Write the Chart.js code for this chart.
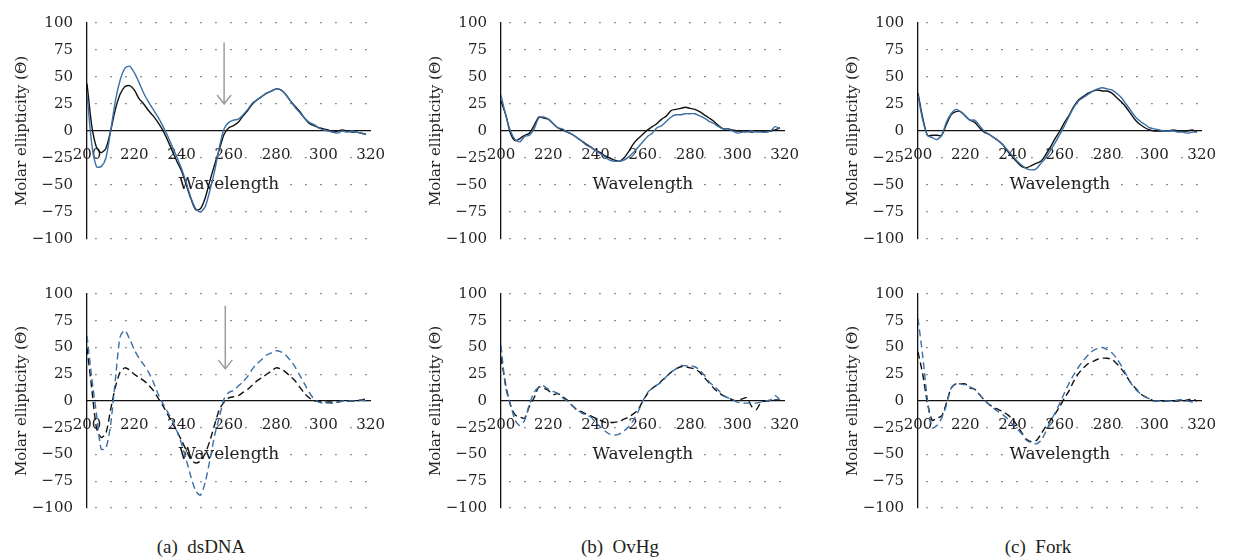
<!DOCTYPE html>
<html>
<head>
<meta charset="utf-8">
<script src="https://cdn.jsdelivr.net/npm/chart.js@4.4.1/dist/chart.umd.min.js"></script>
<style>
  body { margin: 0; background: #fff; }
  #wrap { position: relative; width: 1235px; height: 559px; overflow: hidden; }
  #wrap canvas { position: absolute; }
  .cap { position: absolute; top: 536px; width: 240px; margin-left: -120px; text-align: center;
         font: 19px "Liberation Serif", serif; color: #231f20; white-space: pre; }
</style>
</head>
<body>
<div id="wrap">
  <canvas id="pa1" width="400" height="262" style="left:0px;top:0px"></canvas>
  <canvas id="pb1" width="400" height="262" style="left:414px;top:0px"></canvas>
  <canvas id="pc1" width="400" height="262" style="left:831px;top:0px"></canvas>
  <canvas id="pa2" width="400" height="260" style="left:0px;top:271px"></canvas>
  <canvas id="pb2" width="400" height="260" style="left:414px;top:271px"></canvas>
  <canvas id="pc2" width="400" height="260" style="left:831px;top:271px"></canvas>
  <div class="cap" style="left:201px">(a)  dsDNA</div>
  <div class="cap" style="left:620px">(b)  OvHg</div>
  <div class="cap" style="left:1038px">(c)  Fork</div>
</div>
<script>
// ======================================================
// Data (every 2 nm)
// ======================================================

const wavelengths = [
  200, 202, 204, 206, 208, 210, 212, 214, 216, 218,
  220, 222, 224, 226, 228, 230, 232, 234, 236, 238,
  240, 242, 244, 246, 248, 250, 252, 254, 256, 258,
  260, 262, 264, 266, 268, 270, 272, 274, 276, 278,
  280, 282, 284, 286, 288, 290, 292, 294, 296, 298,
  300, 302, 304, 306, 308, 310, 312, 314, 316, 318
];

const xTicks = [200, 220, 240, 260, 280, 300, 320];
const yTicks = [-100, -75, -50, -25, 0, 25, 50, 75, 100];

// (a) dsDNA, solid
const dsdnaBlack = [
  44, 5, -15, -20, -16, 0, 20, 34, 41, 42,
  38, 30, 25, 19, 14, 8, 1, -8, -18, -28,
  -37, -50, -63, -73, -72, -62, -46, -31, -17, -3,
  3, 5, 8, 14, 19, 25, 29, 32, 35, 37,
  39, 38, 34, 28, 23, 18, 12, 7, 5, 3,
  2, 1, -1, 0, 1, 0, -1, -1, -2, -3
];
const dsdnaBlue = [
  35, -12, -33, -33, -25, 0, 28, 47, 58, 60,
  54, 45, 35, 27, 20, 13, 5, -4, -14, -24,
  -35, -48, -62, -72, -75, -70, -55, -37, -15, 2,
  8, 10, 11, 15, 20, 26, 29, 32, 35, 37,
  39, 38, 34, 28, 22, 17, 12, 8, 6, 3,
  1, 0, -1, -2, 0, -1, 0, -1, -2, -3
];

// (b) OvHg, solid
const ovhgBlack = [
  28, 15, -2, -9, -7, -4, -2, 5, 13, 12,
  11, 7, 3, 1, -1, -3, -6, -9, -12, -15,
  -18, -20, -23, -25, -27, -28, -25, -19, -12, -7,
  -3, 1, 4, 7, 11, 14, 19, 20, 21, 22,
  21, 20, 18, 15, 12, 9, 5, 2, 2, 1,
  0, 0, 0, -1, 0, 0, -1, 0, 1, 3
];
const ovhgBlue = [
  33, 15, 0, -8, -10, -5, -4, 2, 12, 13,
  11, 7, 3, 2, -1, -3, -6, -9, -13, -15,
  -18, -21, -24, -27, -28, -28, -27, -24, -20, -15,
  -10, -5, -2, 3, 5, 9, 13, 15, 15, 16,
  16, 16, 14, 12, 9, 7, 4, 2, 2, 0,
  -2, -1, -1, 0, -1, -1, -1, 0, 4, 2
];

// (c) Fork, solid
const forkBlack = [
  35, 12, -4, -4, -4, -4, 6, 15, 18, 18,
  14, 10, 8, 3, -1, -3, -6, -9, -13, -19,
  -24, -29, -33, -34, -32, -30, -28, -22, -15, -7,
  0, 8, 15, 23, 29, 32, 35, 37, 38, 37,
  37, 35, 31, 27, 22, 16, 10, 6, 3, 1,
  0, 0, 0, 0, 1, 0, 0, 0, 1, -1
];
const forkBlue = [
  33, 10, -4, -6, -8, -4, 8, 16, 20, 18,
  14, 10, 10, 5, 0, -3, -6, -9, -13, -18,
  -23, -28, -32, -35, -36, -35, -30, -25, -18, -11,
  -3, 5, 14, 22, 28, 31, 34, 37, 39, 40,
  39, 38, 35, 31, 25, 19, 13, 9, 6, 3,
  2, 1, 0, 0, 0, -1, -1, -2, -1, -1
];

// (a) dsDNA, dashed
const dsdnaDashBlack = [
  50, 12, -25, -34, -30, -8, 13, 27, 31, 29,
  25, 22, 19, 15, 10, 3, -4, -12, -20, -28,
  -37, -46, -55, -58, -56, -49, -37, -22, -8, -1,
  3, 4, 5, 8, 11, 15, 19, 22, 25, 28,
  31, 30, 27, 23, 19, 13, 7, 3, 0, 0,
  -1, -1, -1, -1, 0, 0, 0, 0, 1, 2
];
const dsdnaDashBlue = [
  61, 22, -12, -45, -44, -22, 20, 60, 66, 58,
  48, 40, 34, 27, 18, 7, -2, -10, -18, -28,
  -40, -55, -71, -84, -88, -76, -55, -32, -15, 2,
  8, 10, 14, 18, 23, 30, 35, 39, 43, 45,
  47, 46, 43, 38, 32, 24, 16, 8, 2, -1,
  -2, -2, -2, -1, 0, 0, 0, 0, 1, 0
];

// (b) OvHg, dashed
const ovhgDashBlack = [
  41, 15, -4, -13, -15, -16, -5, 3, 13, 12,
  10, 6, 7, 4, 1, -4, -8, -10, -12, -14,
  -16, -18, -20, -20, -20, -19, -17, -15, -12, -8,
  0, 7, 12, 15, 19, 23, 27, 30, 32, 32,
  31, 30, 27, 22, 17, 12, 8, 5, 3, 1,
  0, 2, 3, -5, -8, -1, 0, 0, 1, 1
];
const ovhgDashBlue = [
  52, 12, -3, -18, -23, -18, -3, 8, 13, 14,
  11, 9, 7, 3, 0, -4, -8, -11, -13, -15,
  -20, -24, -28, -31, -32, -31, -28, -24, -18, -10,
  0, 8, 12, 15, 18, 23, 27, 30, 33, 33,
  33, 32, 29, 24, 18, 14, 10, 5, 3, 1,
  -1, -2, -2, -2, -2, -1, 0, 1, 5, 1
];

// (c) Fork, dashed
const forkDashBlack = [
  46, 25, -2, -18, -16, -14, -2, 12, 16, 16,
  16, 12, 11, 6, 1, -3, -6, -8, -10, -13,
  -17, -23, -30, -36, -38, -37, -31, -24, -18, -12,
  -5, 3, 10, 19, 26, 31, 35, 37, 39, 40,
  40, 39, 35, 30, 24, 17, 12, 7, 4, 2,
  0, 0, 0, 0, 0, 0, 0, 1, 2, 0
];
const forkDashBlue = [
  77, 42, 1, -25, -23, -16, -4, 12, 16, 16,
  15, 13, 11, 6, 1, -3, -7, -10, -13, -17,
  -22, -26, -31, -37, -39, -40, -37, -29, -19, -11,
  -2, 8, 17, 25, 32, 38, 43, 47, 49, 50,
  48, 45, 40, 33, 25, 17, 11, 7, 4, 2,
  0, 0, 0, 0, 0, 1, 1, 0, -1, -2
];

// arrows: [wavelength, from value, to value]
const arrowTop = [258, 82, 25];
const arrowBottom = [258.5, 89, 30];

// ======================================================
// Styling
// ======================================================

const BLUE = "#3b6fa6";
const BLACK = "#111111";
const TEXT = "#231f20";
const FONT = "DejaVu Serif";

function toPoints(values) {
    return wavelengths.map((w, i) => ({ x: w, y: values[i] }));
}

const extrasPlugin = {
    id: "extras",
    beforeDatasetsDraw(chart) {
        const { ctx, scales: { x, y } } = chart;
        ctx.save();
        ctx.font = "17px '" + FONT + "'";
        ctx.fillStyle = TEXT;
        ctx.textAlign = "center";
        ctx.textBaseline = "middle";
        ctx.fillText("Wavelength", (x.left + x.right) / 2, y.getPixelForValue(-50));
        ctx.restore();
    },
    afterDatasetsDraw(chart, args, opts) {
        if (!opts.arrow) return;
        const { ctx, scales: { x, y } } = chart;
        const px = x.getPixelForValue(opts.arrow[0]);
        const y1 = y.getPixelForValue(opts.arrow[1]);
        const y2 = y.getPixelForValue(opts.arrow[2]);
        ctx.save();
        ctx.strokeStyle = "#9d9d9d";
        ctx.lineWidth = 1.5;
        ctx.beginPath();
        ctx.moveTo(px, y1);
        ctx.lineTo(px, y2);
        ctx.moveTo(px - 7, y2 - 9);
        ctx.lineTo(px, y2);
        ctx.lineTo(px + 7, y2 - 9);
        ctx.stroke();
        ctx.restore();
    }
};

// ======================================================
// Panel
// ======================================================

function renderPanel(id, blackValues, blueValues, dashed, arrow) {

    const canvas = document.querySelector("#" + id);

    if (!canvas) return;

    const dash = dashed ? [7, 4] : [];

    new Chart(canvas, {

        type: "line",

        data: {

            datasets: [

                {
                    data: toPoints(blueValues),
                    borderColor: BLUE,
                    borderWidth: 1.4,
                    borderDash: dash,
                    pointRadius: 0,
                    tension: 0.25
                },

                {
                    data: toPoints(blackValues),
                    borderColor: BLACK,
                    borderWidth: 1.4,
                    borderDash: dash,
                    pointRadius: 0,
                    tension: 0.25
                }

            ]

        },

        options: {

            responsive: false,
            animation: false,
            devicePixelRatio: 1,

            layout: {
                padding: { top: 22, bottom: 22, left: 0, right: 13 }
            },

            plugins: {
                legend: { display: false },
                tooltip: { enabled: false },
                extras: { arrow: arrow }
            },

            scales: {

                x: {
                    type: "linear",
                    position: { y: 0 },
                    min: 200,
                    max: 320,
                    afterBuildTicks: (scale) => {
                        scale.ticks = xTicks.map(v => ({ value: v }));
                    },
                    grid: { color: "transparent", drawTicks: false },
                    border: { display: true, color: BLACK, width: 1.3 },
                    ticks: {
                        padding: 15,
                        maxRotation: 0,
                        color: TEXT,
                        font: { family: FONT, size: 15 }
                    }
                },

                y: {
                    min: -100,
                    max: 100,
                    afterBuildTicks: (scale) => {
                        scale.ticks = yTicks.map(v => ({ value: v }));
                    },
                    afterFit: (scale) => {
                        scale.width = 87;
                    },
                    grid: {
                        drawTicks: false,
                        color: (c) => c.tick && c.tick.value === 0 ? "transparent" : "#555555",
                        lineWidth: 1.3
                    },
                    border: {
                        display: true,
                        color: BLACK,
                        width: 1.3,
                        dash: [1.3, 13.7],
                        dashOffset: 7
                    },
                    ticks: {
                        padding: 14,
                        color: TEXT,
                        font: { family: FONT, size: 15 },
                        callback: (v) => String(v).replace("-", "\u2212")
                    },
                    title: {
                        display: true,
                        text: "Molar ellipticity (\u0398)",
                        color: TEXT,
                        font: { family: FONT, size: 15 },
                        padding: { top: 13, bottom: 0 }
                    }
                }

            }

        },

        plugins: [extrasPlugin]

    });

}

renderPanel("pa1", dsdnaBlack, dsdnaBlue, false, arrowTop);
renderPanel("pb1", ovhgBlack, ovhgBlue, false, null);
renderPanel("pc1", forkBlack, forkBlue, false, null);
renderPanel("pa2", dsdnaDashBlack, dsdnaDashBlue, true, arrowBottom);
renderPanel("pb2", ovhgDashBlack, ovhgDashBlue, true, null);
renderPanel("pc2", forkDashBlack, forkDashBlue, true, null);
</script>
</body>
</html>
